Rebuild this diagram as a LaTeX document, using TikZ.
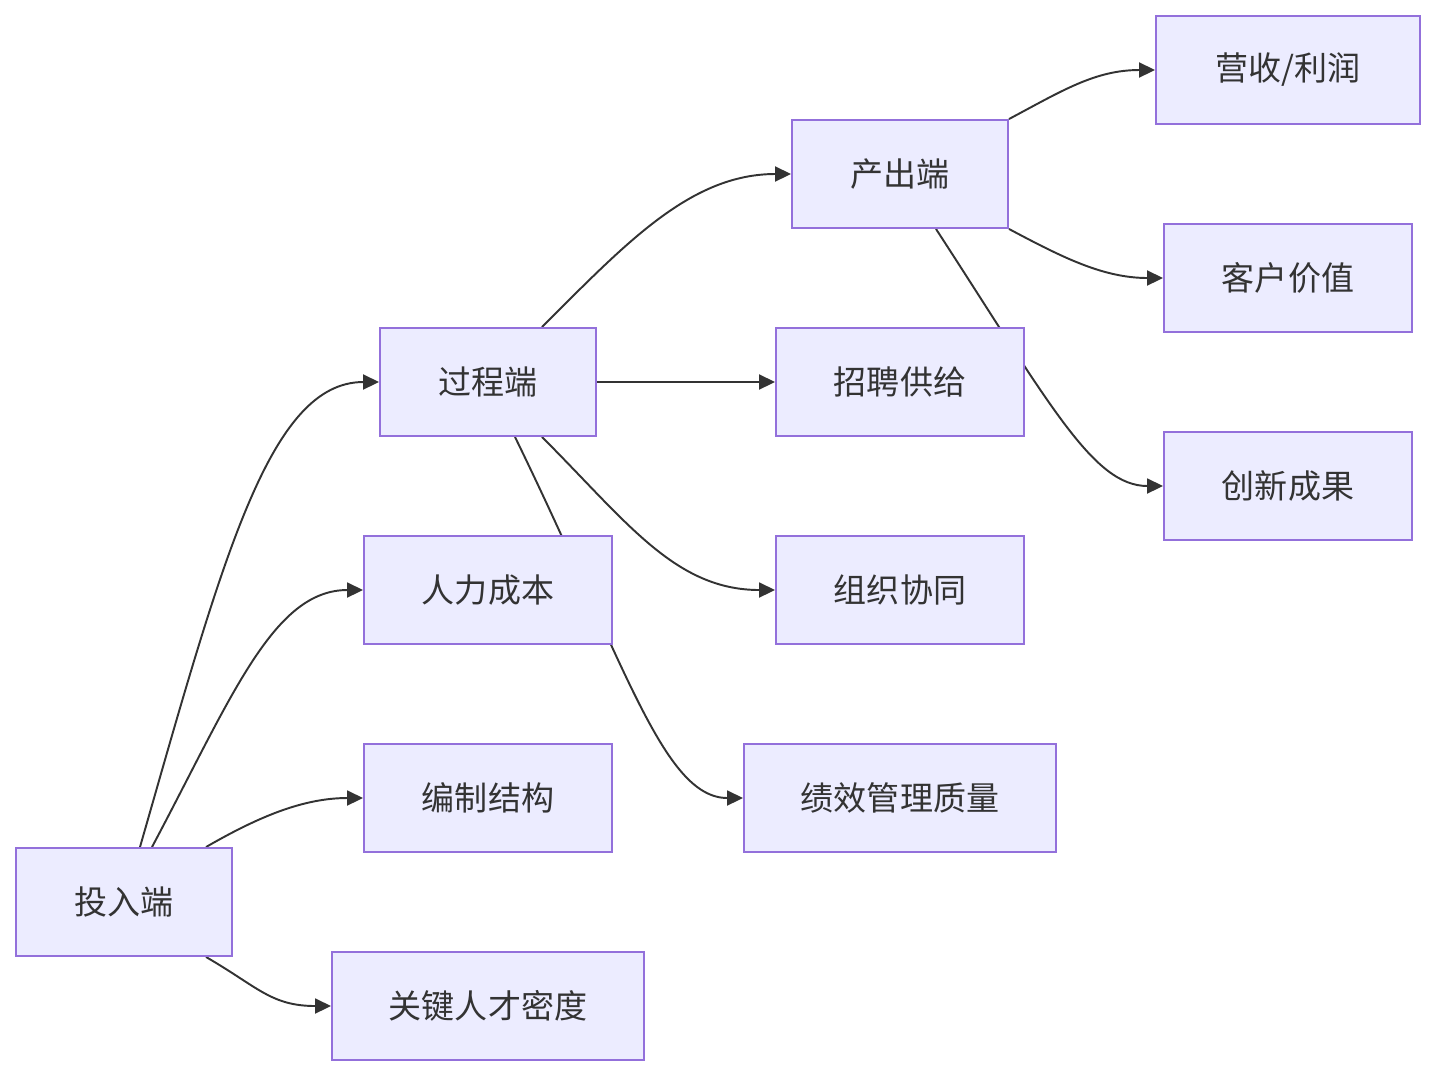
\documentclass[tikz,border=0pt]{standalone}
\usepackage{fontspec}
\setmainfont{Noto Sans CJK SC}
\usepackage{xcolor}
\usetikzlibrary{arrows.meta}
\definecolor{boxfill}{HTML}{ECECFF}
\definecolor{boxline}{HTML}{9370DB}
\definecolor{ink}{HTML}{333333}
\pgfdeclarelayer{bg}
\pgfsetlayers{bg,main}
\tikzset{blk/.style={draw=boxline,fill=boxfill,line width=1.1pt,minimum height=2.16cm,text=ink,font=\fontsize{18.8}{22}\selectfont,inner sep=0pt},
  lnk/.style={draw=ink,line width=1.1pt,-{Triangle[length=0.32cm,width=0.3cm]}}}

\begin{document}
\begin{tikzpicture}
\useasboundingbox (0,0) rectangle (28.72,-21.52);
\node[blk,minimum width=4.32cm] (input) at (2.48,-18.04) {投入端};
\node[blk,minimum width=6.24cm] (talent) at (9.76,-20.12) {关键人才密度}; \node[blk,minimum width=4.96cm] (staff) at (9.76,-15.96) {编制结构};
\node[blk,minimum width=4.96cm] (cost) at (9.76,-11.8) {人力成本}; \node[blk,minimum width=4.32cm] (proc) at (9.76,-7.64) {过程端};
\node[blk,minimum width=6.24cm] (perf) at (18,-15.96) {绩效管理质量}; \node[blk,minimum width=4.96cm] (coop) at (18,-11.8) {组织协同};
\node[blk,minimum width=4.96cm] (hire) at (18,-7.64) {招聘供给}; \node[blk,minimum width=4.32cm] (output) at (18,-3.48) {产出端};
\node[blk,minimum width=4.96cm] (innov) at (25.76,-9.72) {创新成果}; \node[blk,minimum width=4.96cm] (client) at (25.76,-5.56) {客户价值};
\node[blk,minimum width=5.28cm] (profit) at (25.76,-1.4) {营收/利润};
\begin{pgfonlayer}{bg}
\draw[lnk] ([xshift=0.32cm]input.north) to[out=74,in=180,out distance=6cm,in distance=2.2cm] (proc.west);
\draw[lnk] ([xshift=0.56cm]input.north) to[out=62,in=180,out distance=3.4cm,in distance=1.8cm] (cost.west);
\draw[lnk] ([xshift=1.64cm]input.north) to[out=30,in=180,out distance=1.2cm,in distance=1.2cm] (staff.west);
\draw[lnk] ([xshift=1.64cm]input.south) to[out=-30,in=180,out distance=1.2cm,in distance=1.2cm] (talent.west);
\draw[lnk] ([xshift=1.08cm]proc.north) to[out=45,in=180,out distance=2.4cm,in distance=2cm] (output.west);
\draw[lnk] (proc.east) -- (hire.west);
\draw[lnk] ([xshift=1.08cm]proc.south) to[out=-45,in=180,out distance=2.4cm,in distance=2cm] (coop.west);
\draw[lnk] ([xshift=0.54cm]proc.south) to[out=-64,in=180,out distance=5cm,in distance=1.6cm] (perf.west);
\draw[lnk] (output.north east) to[out=28,in=180,out distance=1.2cm,in distance=1.2cm] (profit.west);
\draw[lnk] (output.south east) to[out=-28,in=180,out distance=1.2cm,in distance=1.2cm] (client.west);
\draw[lnk] ([xshift=0.72cm]output.south) to[out=-57,in=180,out distance=4.2cm,in distance=1.4cm] (innov.west);
\end{pgfonlayer}
\end{tikzpicture}
\end{document}
